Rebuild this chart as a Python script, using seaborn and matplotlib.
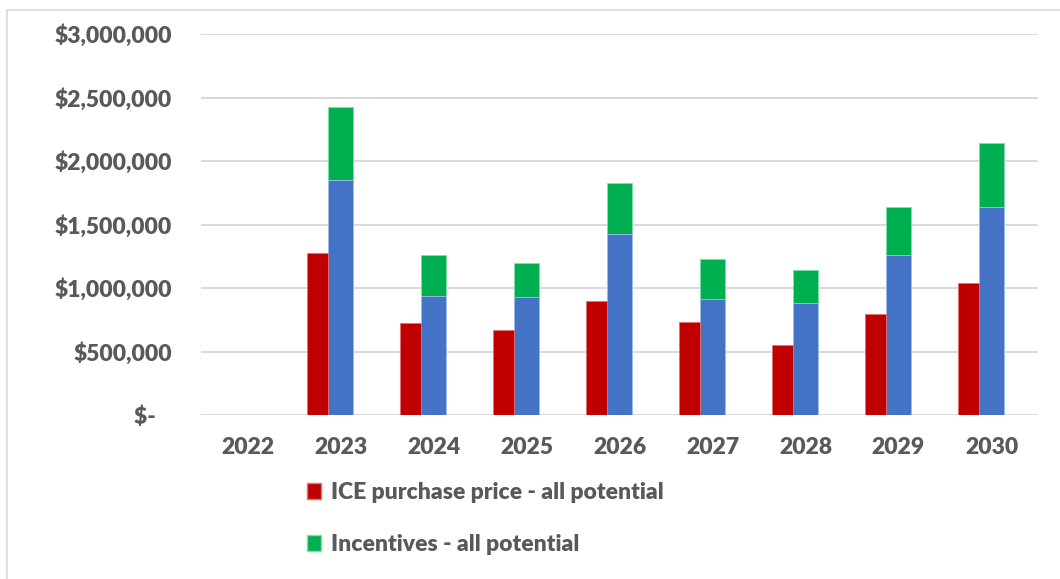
import matplotlib
matplotlib.use("Agg")
import matplotlib.pyplot as plt
from matplotlib.patches import Patch
from matplotlib.lines import Line2D
from matplotlib.ticker import FixedLocator, FuncFormatter
import seaborn as sns
import pandas as pd

# Fleet purchase cost by year
years = ["2022", "2023", "2024", "2025", "2026", "2027", "2028", "2029", "2030"]
ice_price = [0, 1276000, 722000, 669000, 900000, 730000, 554000, 798000, 1042000]
zev_price = [0, 1850000, 937000, 929000, 1428000, 911000, 884000, 1257000, 1640000]
incentives = [0, 578000, 323000, 265000, 401000, 320000, 255000, 378000, 499000]

ice_label = "ICE purchase price - all potential"
inc_label = "Incentives - all potential"

RED = "#C00000"
BLUE = "#4472C4"
GREEN = "#00B050"
TEXT = "#595959"
GRID = "#D9D9D9"
FS = 16.5

sns.set_style("white")
plt.rcParams["font.family"] = ["Lato", "DejaVu Sans"]

df = pd.DataFrame({
    "year": years,
    "ice": ice_price,
    "zev": zev_price,
    "zev_total": [z + i for z, i in zip(zev_price, incentives)],
})

fig = plt.figure(figsize=(10.6, 5.79), dpi=100)
ax = fig.add_axes([201 / 1060, 1 - 415 / 579, (1038 - 201) / 1060, (415 - 34) / 579])

# ZEV price with incentives stacked on top
sns.barplot(data=df, x="year", y="zev_total", color=GREEN, width=0.263,
            saturation=1, edgecolor="#7FE0A8", linewidth=0.6, ax=ax)
sns.barplot(data=df, x="year", y="zev", color=BLUE, width=0.263,
            saturation=1, edgecolor="#A9C1EC", linewidth=0.6, ax=ax)

# ICE price bars sit just left of the stacked bars
n_before = len(ax.patches)
sns.barplot(data=df, x="year", y="ice", color=RED, width=0.226,
            saturation=1, edgecolor="#E07070", linewidth=0.6, ax=ax)
for p in ax.patches[n_before:]:
    p.set_x(p.get_x() - 0.244)

ax.set_ylim(0, 3000000)
ax.set_xlim(-0.5, len(years) - 0.5)
ax.yaxis.set_major_locator(FixedLocator([0, 500000, 1000000, 1500000, 2000000, 2500000, 3000000]))
ax.yaxis.set_major_formatter(FuncFormatter(lambda v, _: "$-   " if v == 0 else f"${v:,.0f}"))
ax.grid(axis="y", color=GRID, linewidth=1.4)
ax.set_axisbelow(True)
for s in ax.spines.values():
    s.set_visible(False)
ax.set_xlabel("")
ax.set_ylabel("")
ax.tick_params(axis="y", length=0, pad=21, labelsize=FS, labelcolor=TEXT)
ax.tick_params(axis="x", length=0, pad=16, labelsize=FS, labelcolor=TEXT)
for lbl in ax.get_yticklabels() + ax.get_xticklabels():
    lbl.set_fontweight("heavy")

handles = [Patch(facecolor=RED, edgecolor="#E07070", label=ice_label),
           Patch(facecolor=GREEN, edgecolor="#7FE0A8", label=inc_label)]
leg = fig.legend(handles=handles, loc="upper left", bbox_to_anchor=(298 / 1060, 1 - 473 / 579),
                 frameon=False, fontsize=FS, handlelength=0.6, handleheight=0.65,
                 handletextpad=0.45, labelspacing=1.35, borderaxespad=0)
for t in leg.get_texts():
    t.set_color(TEXT)
    t.set_fontweight("heavy")

# Chart area border
fig.add_artist(Line2D([7 / 1060, 7 / 1060], [0, 1 - 10 / 579], color=GRID, linewidth=1.2))
fig.add_artist(Line2D([7 / 1060, 1], [1 - 10 / 579, 1 - 10 / 579], color=GRID, linewidth=1.2))

fig.savefig("out.png", dpi=100, facecolor="white")
